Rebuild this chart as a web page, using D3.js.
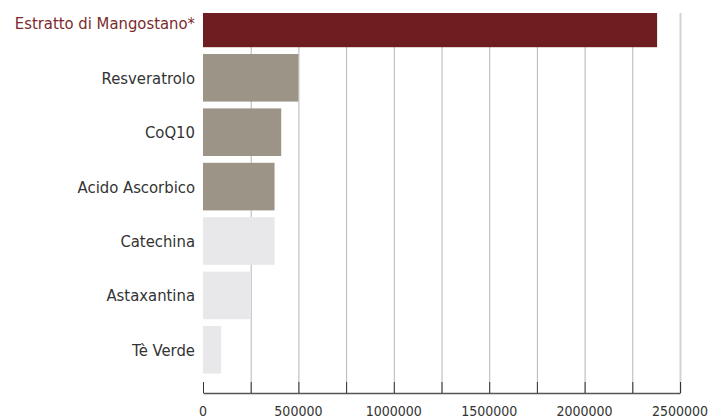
<!DOCTYPE html>
<html>
<head>
<meta charset="utf-8">
<script src="https://cdn.jsdelivr.net/npm/d3@7"></script>
<style>
  body { margin: 0; background: #fff; }
  svg { display: block; }
</style>
</head>
<body>
<div id="chart"></div>
<script>
  var categories = ['Estratto di Mangostano*', 'Resveratrolo', 'CoQ10', 'Acido Ascorbico', 'Catechina', 'Astaxantina', 'Tè Verde'];
  var values = [2380000, 500000, 410000, 375000, 375000, 252000, 95000];
  var groups = ['highlight', 'mid', 'mid', 'mid', 'light', 'light', 'light'];
  var tickValues = [0, 250000, 500000, 750000, 1000000, 1250000, 1500000, 1750000, 2000000, 2250000, 2500000];
  var labelValues = [0, 500000, 1000000, 1500000, 2000000, 2500000];

  var colors = { highlight: '#6e1e21', mid: '#9d9488', light: '#e8e8ea' };
  var font = '"DejaVu Sans Condensed", "DejaVu Sans", sans-serif';

  var width = 709, height = 419;
  var plotLeft = 203, plotRight = 680, plotTop = 13, axisY = 393;

  var x = d3.scaleLinear()
      .domain([0, 2500000])
      .range([plotLeft, plotRight]);

  var y = d3.scaleBand()
      .domain(categories)
      .range([-3.8, 377])
      .paddingInner(0.125)
      .paddingOuter(0.0625);

  var svg = d3.select('#chart').append('svg')
      .attr('width', width)
      .attr('height', height);

  svg.append('defs').append('clipPath')
      .attr('id', 'plot-clip')
    .append('rect')
      .attr('x', 0)
      .attr('y', plotTop)
      .attr('width', width)
      .attr('height', axisY - plotTop);

  // grid lines behind the bars
  svg.append('g').selectAll('line')
      .data(tickValues.slice(1))
    .enter().append('line')
      .attr('x1', function (d) { return x(d) + 0.5; })
      .attr('x2', function (d) { return x(d) + 0.5; })
      .attr('y1', plotTop)
      .attr('y2', axisY)
      .style('stroke', function (d) { return d === 2500000 ? '#d2d2d2' : '#b4b4b4'; })
      .style('stroke-width', function (d) { return d === 2500000 ? 2 : 1; });

  svg.append('g')
      .attr('clip-path', 'url(#plot-clip)')
      .selectAll('rect')
      .data(values)
    .enter().append('rect')
      .attr('x', x(0))
      .attr('y', function (d, i) { return y(categories[i]); })
      .attr('width', function (d) { return x(d) - x(0); })
      .attr('height', y.bandwidth())
      .style('fill', function (d, i) { return colors[groups[i]]; });

  // category labels
  svg.append('g').selectAll('text')
      .data(categories)
    .enter().append('text')
      .attr('x', 195)
      .attr('y', function (d) { return y(d) + y.bandwidth() / 2; })
      .attr('dy', '0.36em')
      .style('text-anchor', 'end')
      .style('font-family', font)
      .style('font-size', '16.5px')
      .style('fill', function (d, i) { return i === 0 ? '#7a2a2e' : '#333'; })
      .text(function (d) { return d; });

  var xAxis = svg.append('g')
      .attr('transform', 'translate(0,' + axisY + ')')
      .call(d3.axisBottom(x)
        .tickValues(tickValues)
        .tickSizeInner(-11)
        .tickSizeOuter(0)
        .tickFormat(function () { return ''; }));

  xAxis.select('path')
      .style('stroke', '#555')
      .style('stroke-width', 1.5);
  xAxis.selectAll('g line')
      .style('stroke', '#333');

  svg.append('g').selectAll('text')
      .data(labelValues)
    .enter().append('text')
      .attr('x', function (d) { return x(d); })
      .attr('y', 416)
      .style('text-anchor', 'middle')
      .style('font-family', font)
      .style('font-size', '14px')
      .style('fill', '#333')
      .text(function (d) { return d; });
</script>
</body>
</html>
